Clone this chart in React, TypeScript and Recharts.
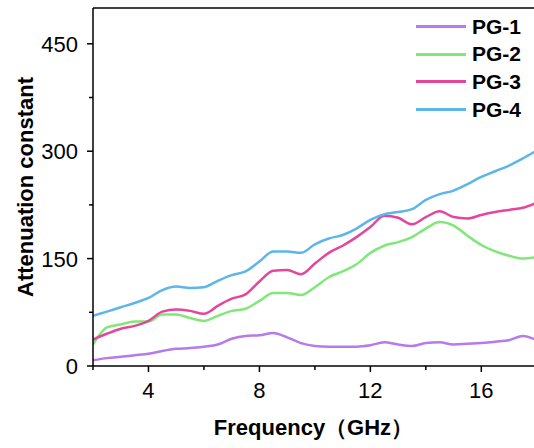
import React from 'react'
import {
  LineChart,
  Line,
  XAxis,
  YAxis,
  Legend,
  ReferenceLine,
} from 'recharts'

// frequency grid (GHz)
const freq = [
  2, 2.5, 3, 3.5, 4, 4.5, 5, 5.5, 6, 6.5, 7, 7.5, 8, 8.5, 9, 9.5, 10,
  10.5, 11, 11.5, 12, 12.5, 13, 13.5, 14, 14.5, 15, 15.5, 16, 16.5, 17, 17.5, 18,
]

const pg1 = [
  8, 11, 13, 15, 17, 21, 24, 25, 27, 30, 38, 42, 43, 46, 40, 32, 28,
  27, 27, 27, 29, 33, 30, 28, 32, 33, 30, 31, 32, 34, 36, 42, 36,
]
const pg2 = [
  30, 54, 58, 62, 62, 72, 72, 67, 63, 70, 77, 80, 91, 102, 102, 99, 110,
  124, 132, 142, 158, 168, 173, 180, 192, 201, 196, 182, 169, 160, 154, 150, 152,
]
const pg3 = [
  37, 45, 52, 56, 63, 76, 79, 77, 73, 84, 94, 100, 118, 133, 134, 128, 143,
  158, 168, 180, 194, 210, 207, 198, 208, 216, 208, 206, 211, 215, 218, 221, 228,
]
const pg4 = [
  70, 76, 82, 88, 95, 106, 111, 109, 110, 119, 127, 132, 146, 160, 160, 158, 170,
  178, 183, 192, 204, 212, 215, 219, 232, 240, 245, 254, 264, 272, 280, 290, 301,
]

const xTicks = [2, 4, 6, 8, 10, 12, 14, 16]
const yTicks = [0, 75, 150, 225, 300, 375, 450]

const data = freq.map((f, i) => ({ f, pg1: pg1[i], pg2: pg2[i], pg3: pg3[i], pg4: pg4[i] }))

const FONT = '"Liberation Sans", Arial, sans-serif'

const XTick = ({ x, y, payload }: any) => {
  const major = payload.value % 4 === 0
  return (
    <g>
      <line x1={x} x2={x} y1={y} y2={y + (major ? 6 : 4)} stroke="#000" strokeWidth={1.5} />
      {major && (
        <text x={x} y={y + 32} textAnchor="middle" fontSize={22} fontFamily={FONT} fill="#000">
          {payload.value}
        </text>
      )}
    </g>
  )
}

const YTick = ({ x, y, payload }: any) => {
  const major = payload.value % 150 === 0
  return (
    <g>
      <line x1={x} x2={x - (major ? 6 : 4)} y1={y} y2={y} stroke="#000" strokeWidth={1.5} />
      {major && (
        <text x={x - 15} y={y + 8} textAnchor="end" fontSize={22} fontFamily={FONT} fill="#000">
          {payload.value}
        </text>
      )}
    </g>
  )
}

const renderLegend = ({ payload }: any) => (
  <div style={{ fontFamily: FONT }}>
    {payload.map((e: any) => (
      <div key={e.value} style={{ display: 'flex', alignItems: 'center', height: 27.6 }}>
        <span style={{ width: 50, height: 3, background: e.color, marginRight: 6 }} />
        <span style={{ fontWeight: 'bold', fontSize: 21, color: '#000' }}>{e.value}</span>
      </div>
    ))}
  </div>
)

export default function App() {
  return (
    <div style={{ position: 'absolute', left: 0, top: 0, background: '#fff' }}>
      <LineChart width={534} height={448} data={data} margin={{ top: 8, right: 0, left: 0, bottom: 0 }}>
        <XAxis
          dataKey="f"
          type="number"
          domain={[2, 17.9]}
          allowDataOverflow
          ticks={xTicks}
          tick={<XTick />}
          tickLine={false}
          tickSize={0}
          tickMargin={0}
          height={82}
          axisLine={{ stroke: '#000', strokeWidth: 1.5 }}
          label={{
            value: 'Frequency（GHz）',
            position: 'insideBottom',
            offset: 13,
            style: { fontFamily: FONT, fontWeight: 'bold', fontSize: 22, fill: '#000' },
          }}
        />
        <YAxis
          type="number"
          domain={[0, 500]}
          ticks={yTicks}
          tick={<YTick />}
          tickLine={false}
          tickSize={0}
          tickMargin={0}
          width={93}
          axisLine={{ stroke: '#000', strokeWidth: 1.5 }}
          label={{
            value: 'Attenuation constant',
            angle: -90,
            position: 'center',
            dx: -21,
            style: { fontFamily: FONT, fontWeight: 'bold', fontSize: 22, fill: '#000' },
          }}
        />
        <ReferenceLine y={500} stroke="#000" strokeWidth={1.5} />
        <Legend
          layout="vertical"
          align="center"
          verticalAlign="middle"
          content={renderLegend}
          wrapperStyle={{ left: 416, top: 13, width: 'auto' }}
        />
        <Line type="monotone" dataKey="pg1" name="PG-1" stroke="#b57aec" strokeWidth={2.5} dot={false} isAnimationActive={false} />
        <Line type="monotone" dataKey="pg2" name="PG-2" stroke="#80e878" strokeWidth={2.5} dot={false} isAnimationActive={false} />
        <Line type="monotone" dataKey="pg3" name="PG-3" stroke="#e4469b" strokeWidth={2.5} dot={false} isAnimationActive={false} />
        <Line type="monotone" dataKey="pg4" name="PG-4" stroke="#5db6e8" strokeWidth={2.5} dot={false} isAnimationActive={false} />
      </LineChart>
    </div>
  )
}
